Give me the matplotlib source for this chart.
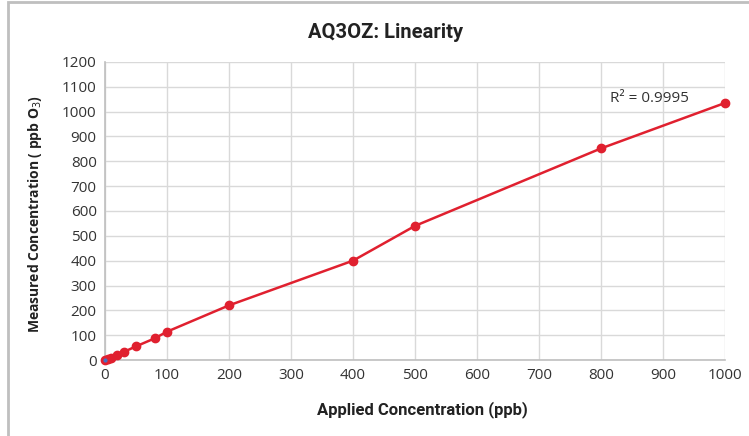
import matplotlib.pyplot as plt
from matplotlib.patches import Rectangle

# applied vs measured ozone concentration (ppb)
applied = [0, 5, 10, 20, 30, 50, 80, 100, 200, 400, 500, 800, 1000]
measured = [0, 6, 10, 20, 32, 55, 87, 114, 220, 400, 540, 852, 1035]
x_ticks = list(range(0, 1001, 100))
y_ticks = list(range(0, 1201, 100))
red = '#E0202F'

plt.rcParams['font.family'] = ['Open Sans', 'DejaVu Sans']

fig = plt.figure(figsize=(7.49, 4.36), dpi=100)
ax = fig.add_axes([105 / 749, 1 - 360 / 436, 620 / 749, 298 / 436])

ax.plot(applied, measured, color=red, lw=1.8, marker='o', ms=6, zorder=3,
        clip_on=False)
ax.plot([0], [0], marker='o', ms=2, color='#4472C4', zorder=4, clip_on=False)

ax.set_xlim(0, 1000)
ax.set_ylim(0, 1200)
ax.set_xticks(x_ticks)
ax.set_yticks(y_ticks)
ax.grid(True, color='#d9d9d9', lw=1)
ax.set_axisbelow(True)
ax.tick_params(length=0, labelsize=11, colors='#333333', pad=6)
for s in ['top', 'right']:
    ax.spines[s].set_visible(False)
for s in ['left', 'bottom']:
    ax.spines[s].set_color('#bfbfbf')
    ax.spines[s].set_linewidth(1.2)

ax.text(815, 1040, 'R² = 0.9995', fontsize=11, color='#333333')

fig.text(386 / 749, 1 - 33 / 436, 'AQ3OZ: Linearity',
         ha='center', va='center', fontsize=14.5, fontweight='bold',
         family='Roboto', color='#222222')
fig.text(422 / 749, 1 - 410 / 436, 'Applied Concentration (ppb)',
         ha='center', va='center', fontsize=12, fontweight='bold',
         family='Roboto', color='#222222')
fig.text(35 / 749, 1 - 214 / 436, 'Measured Concentration ( ppb O$_3$)',
         ha='center', va='center', rotation=90, fontsize=10,
         fontweight='bold', family='Open Sans', color='#222222')

# chart frame (cut off at right and bottom)
fig.add_artist(Rectangle((8 / 749, -0.1), 1.1, 1.1 - 2 / 436,
                         transform=fig.transFigure, fill=False,
                         edgecolor='#bfbfbf', lw=2))

fig.savefig('out.png', dpi=100)
